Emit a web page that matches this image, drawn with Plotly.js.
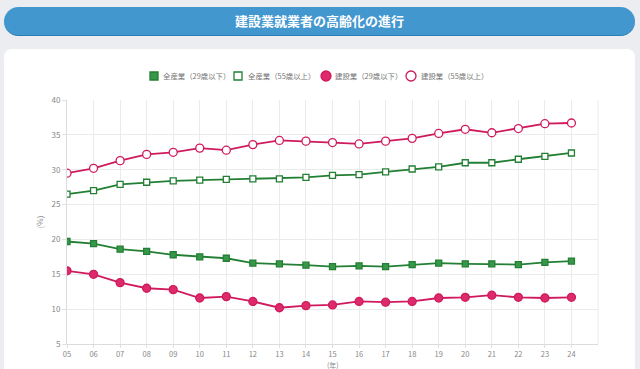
<!DOCTYPE html>
<html>
<head>
<meta charset="utf-8">
<script src="https://cdn.plot.ly/plotly-3.0.1.min.js"></script>
<style>
  html, body { margin: 0; padding: 0; background: #ebedf0; width: 640px; height: 369px; overflow: hidden; }
  #bar { position: absolute; left: 4px; top: 7px; width: 631px; height: 28px; border-radius: 15px;
         background: #4397cf; border-bottom: 1.5px solid #2d7db5; color: #fff; text-align: center;
         font: bold 13px "Noto Sans CJK JP", sans-serif; line-height: 28px; }
  #card { position: absolute; left: 4px; top: 49px; width: 631px; height: 340px; border-radius: 8px; background: #fff; }
  #chart { position: absolute; left: 0; top: 0; width: 640px; height: 369px; }
</style>
</head>
<body>
<div id="bar">建設業就業者の高齢化の進行</div>
<div id="card"></div>
<div id="chart"></div>
<script>
const years = [2005,2006,2007,2008,2009,2010,2011,2012,2013,2014,2015,2016,2017,2018,2019,2020,2021,2022,2023,2024];
const tickLabels = ['05','06','07','08','09','10','11','12','13','14','15','16','17','18','19','20','21','22','23','24'];
const allUnder29 = [19.7,19.4,18.6,18.3,17.8,17.5,17.3,16.6,16.5,16.3,16.1,16.2,16.1,16.4,16.6,16.5,16.5,16.4,16.7,16.9];
const allOver55 = [26.5,27.0,27.9,28.2,28.4,28.5,28.6,28.7,28.7,28.9,29.2,29.3,29.7,30.1,30.4,31.0,31.0,31.5,31.9,32.4];
const conUnder29 = [15.5,15.0,13.8,13.0,12.8,11.6,11.8,11.1,10.2,10.5,10.6,11.1,11.0,11.1,11.6,11.7,12.0,11.7,11.6,11.7];
const conOver55 = [29.5,30.2,31.3,32.2,32.5,33.1,32.8,33.6,34.2,34.1,33.9,33.7,34.1,34.5,35.2,35.8,35.3,35.9,36.6,36.7];
const names = ['全産業（29歳以下）','全産業（55歳以上）','建設業（29歳以下）','建設業（55歳以上）'];

const green = '#237f34', greenFill = '#38984a', pink = '#cf1a5e', pinkFill = '#dc2a6a';

const series = [
  {y: allUnder29, color: green, fill: greenFill, symbol: 'square', size: 6},
  {y: allOver55, color: green, fill: '#ffffff', symbol: 'square', size: 6},
  {y: conUnder29, color: pink, fill: pinkFill, symbol: 'circle', size: 8},
  {y: conOver55, color: pink, fill: '#ffffff', symbol: 'circle', size: 8}
];

const traces = series.map((s, i) => ({
  x: years, y: s.y, type: 'scatter', mode: 'lines+markers', name: names[i], showlegend: false,
  line: {color: s.color, width: 1.8},
  marker: {symbol: s.symbol, size: s.size, color: s.fill, line: {color: s.color, width: 1.3}}
}));

// Plot area in pixels (for converting legend placement to paper coordinates)
const L = 67, R = 598, T = 100, B = 344;
const px = v => (v - L) / (R - L);
const py = v => (B - v) / (B - T);

// Custom legend (Chart.js style: marker then label)
const legendMarkerX = [154, 238, 326, 411];
const legendTextX = [161, 246, 333, 419];
const legendY = 76;
const shapes = [];
const annotations = [];
series.forEach((s, i) => {
  const half = s.symbol === 'circle' ? 5 : 4;
  shapes.push({
    type: s.symbol === 'circle' ? 'circle' : 'rect',
    xref: 'paper', yref: 'paper', xsizemode: 'pixel', ysizemode: 'pixel',
    xanchor: px(legendMarkerX[i]), yanchor: py(legendY),
    x0: -half, x1: half, y0: -half, y1: half,
    fillcolor: s.fill, line: {color: s.color, width: 1.3}
  });
  annotations.push({
    xref: 'paper', yref: 'paper', x: px(legendTextX[i]), y: py(legendY),
    xanchor: 'left', yanchor: 'middle', showarrow: false,
    text: names[i], font: {size: 7.4, color: '#777'}
  });
});
annotations.push({
  xref: 'paper', yref: 'paper', x: 0.5, y: py(370.5), xanchor: 'center', yanchor: 'bottom',
  showarrow: false, text: '(年)', font: {size: 7, color: '#888'}, borderpad: 0
});
shapes.push({type: 'line', xref: 'paper', yref: 'paper', x0: 1, x1: 1, y0: 0, y1: 1, line: {color: '#ebebeb', width: 1}});

const layout = {
  width: 640, height: 369,
  paper_bgcolor: 'rgba(0,0,0,0)', plot_bgcolor: 'rgba(0,0,0,0)',
  margin: {l: L, r: 640 - R, t: T, b: 369 - B, pad: 0},
  font: {family: '"Noto Sans CJK JP", sans-serif', size: 8, color: '#888'},
  showlegend: false,
  xaxis: {
    range: [2005, 2025], tickvals: years, ticktext: tickLabels,
    showgrid: true, gridcolor: '#ebebeb', gridwidth: 1,
    showline: true, linecolor: '#dcdcdc', linewidth: 1,
    ticks: 'outside', ticklen: 3, tickcolor: '#e0e0e0',
    zeroline: false, tickfont: {size: 7.5, color: '#888'}
  },
  yaxis: {
    range: [5, 40], dtick: 5, tick0: 5,
    showgrid: true, gridcolor: '#ebebeb', gridwidth: 1,
    showline: true, linecolor: '#dcdcdc', linewidth: 1,
    ticks: 'outside', ticklen: 4, tickcolor: '#e0e0e0',
    zeroline: false, tickfont: {size: 8, color: '#888'},
    title: {text: '(%)', font: {size: 8, color: '#888'}, standoff: 6}
  },
  shapes: shapes,
  annotations: annotations
};

Plotly.newPlot('chart', traces, layout, {displayModeBar: false, staticPlot: true});
</script>
</body>
</html>
